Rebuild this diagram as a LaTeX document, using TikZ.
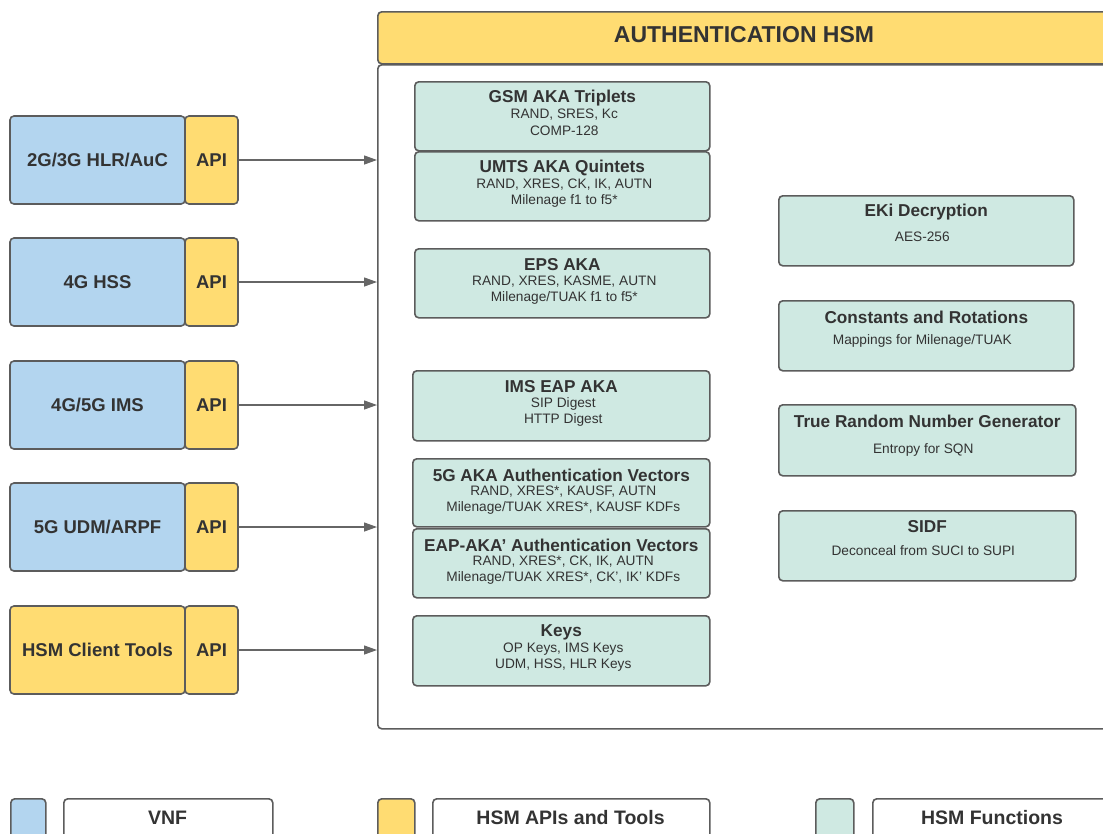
\documentclass[tikz,border=0pt]{standalone}
\usepackage{fontspec}
\setmainfont{Liberation Sans}
\usetikzlibrary{arrows.meta}
\definecolor{ink}{HTML}{333333}
\definecolor{edge}{HTML}{5C5C5C}
\definecolor{vnfblue}{HTML}{B3D5EF}
\definecolor{apiyellow}{HTML}{FFDC72}
\definecolor{fnteal}{HTML}{CFE9E2}
\definecolor{wire}{HTML}{666666}
\tikzset{
  box/.style={draw=edge, line width=1.6pt, rounded corners=4pt, inner sep=0pt, text=ink},
  vnf/.style={box, fill=vnfblue},
  api/.style={box, fill=apiyellow},
  fn/.style={box, fill=fnteal},
  plain/.style={box, fill=white},
  big/.style={font=\fontsize{18.5}{22}\selectfont\bfseries, text=ink},
  legend/.style={font=\fontsize{19.5}{22}\selectfont\bfseries, text=ink},
  head/.style={font=\fontsize{17.2}{20}\selectfont\bfseries, text=ink, inner sep=0pt},
  sub/.style={font=\fontsize{13.7}{16}\selectfont, text=ink, inner sep=0pt},
  flow/.style={draw=wire, line width=1.3pt, -{Triangle[length=13pt,width=9pt]}},
}
% function box with a heading and two detail lines
\newcommand{\fnthree}[8]{% name, x0, y0, x1, y1, heading, line 1, line 2
  \node[fn, minimum width=#4-#2, minimum height=#5-#3, anchor=north west] (#1) at (#2,#3) {};
  \node[head] at ([yshift=-17pt]#1.north) {#6};
  \node[sub] at ([yshift=-34pt,xshift=2pt]#1.north) {#7};
  \node[sub] at ([yshift=-50pt,xshift=2pt]#1.north) {#8};}
% function box with a heading and one detail line
\newcommand{\fntwo}[8]{% name, x0, y0, x1, y1, heading, line, gap
  \node[fn, minimum width=#4-#2, minimum height=#5-#3, anchor=north west] (#1) at (#2,#3) {};
  \node[head] at ([yshift=-17pt]#1.north) {#6};
  \node[sub] at ([yshift=-#8pt,xshift=-4pt]#1.north) {#7};}
\begin{document}
\begin{tikzpicture}[x=1pt,y=-1pt]
\clip (0,0) rectangle (1103,833);
\fill[white] (0,0) rectangle (1103,833);

% HSM container and its header
\node[plain, minimum width=760pt, minimum height=664pt, anchor=north west] (hsm) at (377,64) {};
\node[api, minimum width=760pt, minimum height=52pt, anchor=north west] (hsmhead) at (377,11) {};
\node[font=\fontsize{23}{26}\selectfont\bfseries, text=ink] (title) at (744,35) {AUTHENTICATION HSM};

% Network elements with their API ports
\foreach \nm/\lbl/\y/\st in {hlr/2G\slash 3G HLR\slash AuC/160/vnf, hss/4G HSS/282/vnf, ims/4G\slash 5G IMS/405/vnf, udm/5G UDM\slash ARPF/527/vnf, cli/HSM Client Tools/650/api}{
  \node[\st, minimum width=175pt, minimum height=88pt, big] (\nm) at (97.5,\y) {\lbl};
  \node[api, minimum width=53pt, minimum height=88pt, big] (\nm api) at (211.5,\y) {API};
  \coordinate (\nm in) at (377,\y);
  \draw[flow] (\nm api.east) -- (\nm in);
}

% Authentication functions, left column
\fnthree{gsm}{414}{81}{709}{150}{GSM AKA Triplets}{RAND, SRES, Kc}{COMP-128}
\fnthree{umts}{414}{151}{709}{220}{UMTS AKA Quintets}{RAND, XRES, CK, IK, AUTN}{Milenage f1 to f5*}
\fnthree{eps}{414}{248}{709}{317}{EPS AKA}{RAND, XRES, KASME, AUTN}{Milenage/TUAK f1 to f5*}
\fnthree{eap}{412}{370}{709}{440}{IMS EAP AKA}{SIP Digest}{HTTP Digest}
\fnthree{fiveg}{412}{458}{709}{526}{5G AKA Authentication Vectors}{RAND, XRES*, KAUSF, AUTN}{Milenage/TUAK XRES*, KAUSF KDFs}
\fnthree{eapp}{412}{528}{709}{597}{EAP-AKA' Authentication Vectors}{RAND, XRES*, CK, IK, AUTN}{Milenage/TUAK XRES*, CK', IK' KDFs}
\fnthree{keys}{412}{615}{709}{685}{Keys}{OP Keys, IMS Keys}{UDM, HSS, HLR Keys}

% Authentication functions, right column
\fntwo{eki}{778}{195}{1073}{265}{EKi Decryption}{AES-256}{42}
\fntwo{rot}{778}{300}{1073}{370}{Constants and Rotations}{Mappings for Milenage/TUAK}{41}
\fntwo{trng}{778}{404}{1075}{475}{True Random Number Generator}{Entropy for SQN}{46}
\fntwo{sidf}{778}{510}{1075}{580}{SIDF}{Deconceal from SUCI to SUPI}{41}

% Legend
\node[vnf, minimum width=35pt, minimum height=44pt, anchor=north west] (kvnf) at (10,798) {};
\node[plain, minimum width=209pt, minimum height=44pt, anchor=north west] (lvnf) at (63,798) {};
\node[legend] at (167.5,818) {VNF};
\node[api, minimum width=37pt, minimum height=44pt, anchor=north west] (kapi) at (377,798) {};
\node[plain, minimum width=277pt, minimum height=44pt, anchor=north west] (lapi) at (432,798) {};
\node[legend] at (570.5,818) {HSM APIs and Tools};
\node[fn, minimum width=38pt, minimum height=44pt, anchor=north west] (kfn) at (815,798) {};
\node[plain, minimum width=240pt, minimum height=44pt, anchor=north west] (lfn) at (872,798) {};
\node[legend] at (992,818) {HSM Functions};
\end{tikzpicture}
\end{document}
